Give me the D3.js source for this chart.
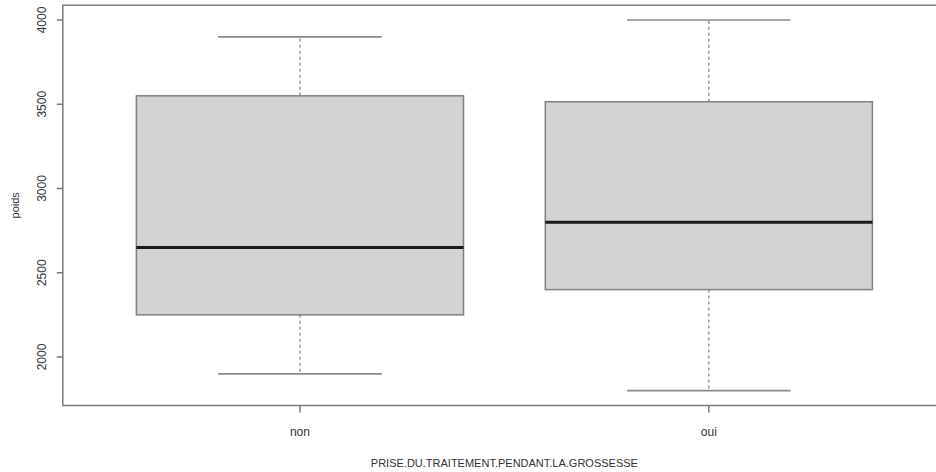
<!DOCTYPE html>
<html><head><meta charset="utf-8">
<script src="https://cdn.jsdelivr.net/npm/d3@7"></script>
<style>body{margin:0;background:#fff}svg{display:block}</style>
</head><body>
<svg id="c" width="936" height="472"></svg>
<script>
const categories = ["non", "oui"];
const lowerWhisker = [1900, 1800];
const q1 = [2250, 2400];
const median = [2650, 2800];
const q3 = [3550, 3515];
const upperWhisker = [3900, 4000];
const yTicks = [2000, 2500, 3000, 3500, 4000];
const xTitle = "PRISE.DU.TRAITEMENT.PENDANT.LA.GROSSESSE";
const yTitle = "poids";

const svg = d3.select("#c");
const L = 62.8, R = 946, T = 5.2, B = 405.5;
const x = d3.scaleLinear().domain([0.42, 2.58]).range([L, R]);
const y = d3.scaleLinear().domain([1712, 4088]).range([B, T]);
const font = "'Liberation Sans Narrow', 'Liberation Sans', Arial, sans-serif";
const frameCol = "#7a7a7a";

const data = categories.map((c, i) => ({c, i: i + 1, lo: lowerWhisker[i], q1: q1[i], med: median[i], q3: q3[i], hi: upperWhisker[i]}));
const boxW = 0.8, capW = 0.4;

const g = svg.append("g");
data.forEach(d => {
  g.append("line").attr("x1", x(d.i)).attr("x2", x(d.i)).attr("y1", y(d.q3)).attr("y2", y(d.hi))
    .attr("stroke", "#888").attr("stroke-width", 1.3).attr("stroke-dasharray", "3,3");
  g.append("line").attr("x1", x(d.i)).attr("x2", x(d.i)).attr("y1", y(d.q1)).attr("y2", y(d.lo))
    .attr("stroke", "#888").attr("stroke-width", 1.3).attr("stroke-dasharray", "3,3");
  [d.hi, d.lo].forEach(v => g.append("line").attr("x1", x(d.i - capW / 2)).attr("x2", x(d.i + capW / 2))
    .attr("y1", y(v)).attr("y2", y(v)).attr("stroke", "#8a8a8a").attr("stroke-width", 1.6));
  g.append("rect").attr("x", x(d.i - boxW / 2)).attr("width", x(d.i + boxW / 2) - x(d.i - boxW / 2))
    .attr("y", y(d.q3)).attr("height", y(d.q1) - y(d.q3))
    .attr("fill", "#d3d3d3").attr("stroke", "#808080").attr("stroke-width", 1.5);
  g.append("line").attr("x1", x(d.i - boxW / 2)).attr("x2", x(d.i + boxW / 2))
    .attr("y1", y(d.med)).attr("y2", y(d.med)).attr("stroke", "#1a1a1a").attr("stroke-width", 3);
});

svg.append("rect").attr("x", L).attr("y", T).attr("width", R - L).attr("height", B - T)
  .attr("fill", "none").attr("stroke", frameCol).attr("stroke-width", 1.5);

const ya = svg.append("g");
yTicks.forEach(v => {
  ya.append("line").attr("x1", L - 6).attr("x2", L).attr("y1", y(v)).attr("y2", y(v)).attr("stroke", frameCol).attr("stroke-width", 1.5);
  ya.append("text").attr("transform", `translate(${L - 21},${y(v)}) rotate(-90)`)
    .attr("text-anchor", "middle").attr("dy", "0.35em").attr("font-family", font).attr("font-size", 12)
    .attr("fill", "#333").text(v);
});
svg.append("text").attr("transform", `translate(15,${(T + B) / 2}) rotate(-90)`)
  .attr("text-anchor", "middle").attr("dy", "0.35em").attr("font-family", font).attr("font-size", 11)
  .attr("fill", "#333").text(yTitle);

const xa = svg.append("g");
data.forEach(d => {
  xa.append("line").attr("x1", x(d.i)).attr("x2", x(d.i)).attr("y1", B).attr("y2", B + 7).attr("stroke", frameCol).attr("stroke-width", 1.5);
  xa.append("text").attr("x", x(d.i)).attr("y", B + 26).attr("dy", "0.35em").attr("text-anchor", "middle")
    .attr("font-family", font).attr("font-size", 12).attr("fill", "#333").text(d.c);
});
svg.append("text").attr("x", (L + R) / 2).attr("y", 463).attr("dy", "0.35em").attr("text-anchor", "middle")
  .attr("font-family", font).attr("font-size", 11).attr("fill", "#333").text(xTitle);
</script>
</body></html>
